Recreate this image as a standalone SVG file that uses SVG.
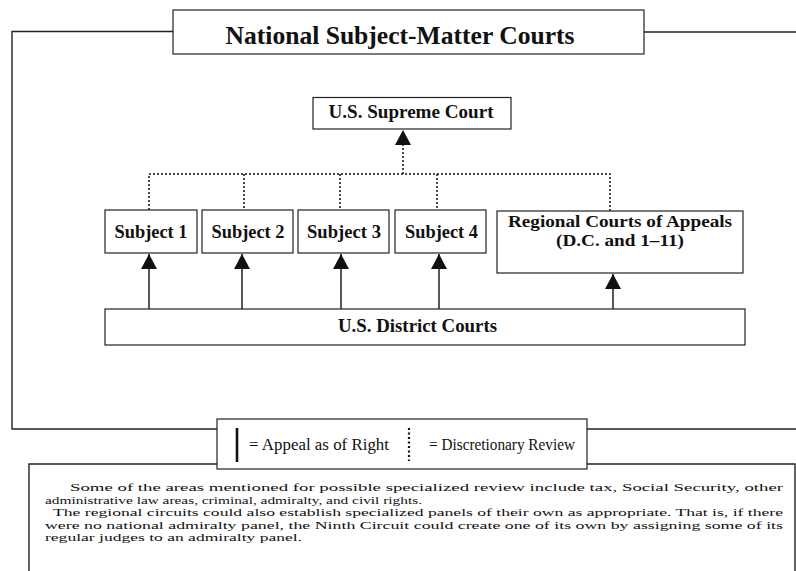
<svg xmlns="http://www.w3.org/2000/svg" width="796" height="571" viewBox="0 0 796 571">
<style>
.bg{fill:#fff}
.box{fill:#fff;stroke:#222;stroke-width:1.2}
.frame{fill:none;stroke:#222;stroke-width:1.4}
.solid{fill:none;stroke:#111;stroke-width:1.4}
.dot{fill:none;stroke:#111;stroke-width:1.5;stroke-dasharray:2 2}
.t{font-family:"Liberation Serif","Times New Roman",serif;fill:#111}
.b{font-weight:bold}
.p{font-size:11px}
</style>
<defs>
<marker id="ah" markerUnits="userSpaceOnUse" markerWidth="16" markerHeight="16" viewBox="0 0 16 16" refX="15" refY="8" orient="auto">
<path d="M0,0 L15,8 L0,16 Z" fill="#111"/>
</marker>
</defs>
<rect class="bg" x="0" y="0" width="796" height="571"/>

<g id="frame">
<path class="frame" d="M173,31.5 H12 V429 H217"/>
<path class="frame" d="M644,32 H796"/>
<path class="frame" d="M587,429 H796"/>
</g>

<g id="title">
<rect class="box" x="173" y="10" width="471" height="44"/>
<text class="t b" x="400" y="43.5" font-size="25.5" text-anchor="middle" textLength="349" lengthAdjust="spacingAndGlyphs">National Subject-Matter Courts</text>
</g>

<g id="connectors">
<path class="dot" d="M149,210 V174 H610 V211"/>
<path class="dot" d="M244,174 V210"/>
<path class="dot" d="M340,174 V210"/>
<path class="dot" d="M437,174 V210"/>
<path class="dot" d="M403,174 V130" marker-end="url(#ah)"/>
<path class="solid" d="M149,309 V254" marker-end="url(#ah)"/>
<path class="solid" d="M242,309 V254" marker-end="url(#ah)"/>
<path class="solid" d="M341,309 V254" marker-end="url(#ah)"/>
<path class="solid" d="M439,309 V254" marker-end="url(#ah)"/>
<path class="solid" d="M613,309 V274" marker-end="url(#ah)"/>
</g>

<g id="supreme">
<rect class="box" x="313" y="97.5" width="198" height="31.5"/>
<text class="t b" x="411" y="118" font-size="19" text-anchor="middle" textLength="165" lengthAdjust="spacingAndGlyphs">U.S. Supreme Court</text>
</g>

<g id="subject1">
<rect class="box" x="105" y="210" width="92" height="43"/>
<text class="t b" x="151" y="238" font-size="18" text-anchor="middle" textLength="73" lengthAdjust="spacingAndGlyphs">Subject 1</text>
</g>
<g id="subject2">
<rect class="box" x="202" y="210" width="91" height="43"/>
<text class="t b" x="248" y="238" font-size="18" text-anchor="middle" textLength="73" lengthAdjust="spacingAndGlyphs">Subject 2</text>
</g>
<g id="subject3">
<rect class="box" x="298" y="210" width="91" height="43"/>
<text class="t b" x="344" y="238" font-size="18" text-anchor="middle" textLength="74" lengthAdjust="spacingAndGlyphs">Subject 3</text>
</g>
<g id="subject4">
<rect class="box" x="395" y="210" width="91" height="43"/>
<text class="t b" x="441.5" y="238" font-size="18" text-anchor="middle" textLength="73" lengthAdjust="spacingAndGlyphs">Subject 4</text>
</g>
<g id="regional">
<rect class="box" x="497" y="211" width="246" height="62"/>
<text class="t b" x="620" y="227" font-size="17" text-anchor="middle" textLength="224" lengthAdjust="spacingAndGlyphs">Regional Courts of Appeals</text>
<text class="t b" x="620" y="246" font-size="17" text-anchor="middle" textLength="128" lengthAdjust="spacingAndGlyphs">(D.C. and 1–11)</text>
</g>
<g id="district">
<rect class="box" x="105" y="309" width="640" height="36"/>
<text class="t b" x="417.5" y="332" font-size="18" text-anchor="middle" textLength="159" lengthAdjust="spacingAndGlyphs">U.S. District Courts</text>
</g>

<g id="legend">
<rect class="box" x="217" y="419" width="370" height="50"/>
<line x1="237" y1="428" x2="237" y2="462" stroke="#111" stroke-width="2.6"/>
<text class="t" x="249" y="450" font-size="16" textLength="140" lengthAdjust="spacingAndGlyphs">= Appeal as of Right</text>
<line x1="409" y1="428" x2="409" y2="461" stroke="#111" stroke-width="2.2" stroke-dasharray="2 2.5"/>
<text class="t" x="429" y="450" font-size="16" textLength="146" lengthAdjust="spacingAndGlyphs">= Discretionary Review</text>
</g>

<g id="note">
<path class="frame" d="M217,464 H29 V571"/>
<path class="frame" d="M587,464 H795 V571" stroke-width="1"/>
<text class="t p" x="70" y="491" textLength="713" lengthAdjust="spacingAndGlyphs">Some of the areas mentioned for possible specialized review include tax, Social Security, other</text>
<text class="t p" x="45" y="503.5" textLength="377" lengthAdjust="spacingAndGlyphs">administrative law areas, criminal, admiralty, and civil rights.</text>
<text class="t p" x="53" y="516" textLength="730" lengthAdjust="spacingAndGlyphs">The regional circuits could also establish specialized panels of their own as appropriate. That is, if there</text>
<text class="t p" x="45" y="528.5" textLength="738" lengthAdjust="spacingAndGlyphs">were no national admiralty panel, the Ninth Circuit could create one of its own by assigning some of its</text>
<text class="t p" x="45" y="541" textLength="257" lengthAdjust="spacingAndGlyphs">regular judges to an admiralty panel.</text>
</g>
</svg>
